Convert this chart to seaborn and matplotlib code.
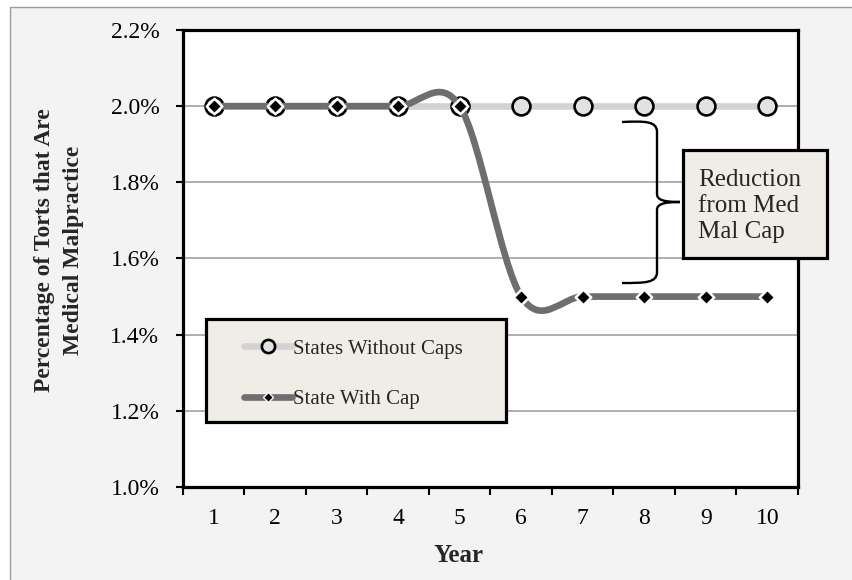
import numpy as np
import pandas as pd
import matplotlib
matplotlib.use("Agg")
import matplotlib.pyplot as plt
import seaborn as sns
from matplotlib.path import Path
from matplotlib.patches import PathPatch, Rectangle
from matplotlib.lines import Line2D
from matplotlib.transforms import Affine2D

# ---------------- data ----------------
years = [1, 2, 3, 4, 5, 6, 7, 8, 9, 10]
without_caps = [2.0, 2.0, 2.0, 2.0, 2.0, 2.0, 2.0, 2.0, 2.0, 2.0]
with_cap = [2.0, 2.0, 2.0, 2.0, 2.0, 1.5, 1.5, 1.5, 1.5, 1.5]
y_ticks = [1.0, 1.2, 1.4, 1.6, 1.8, 2.0, 2.2]
y_tick_labels = ["1.0%", "1.2%", "1.4%", "1.6%", "1.8%", "2.0%", "2.2%"]
series_names = ["States Without Caps", "State With Cap"]
x_label = "Year"
y_label = "Percentage of Torts that Are\nMedical Malpractice"
annotation_text = "Reduction\nfrom Med\nMal Cap"

# ---------------- style ----------------
sns.set_style("white")
plt.rcParams["font.family"] = ["Liberation Serif", "DejaVu Serif"]

LIGHT = "#d3d3d3"
DARK = "#6e6e6e"
BEIGE = "#efede6"

W, H = 853, 580
fig = plt.figure(figsize=(W / 100, H / 100), dpi=100)
fig.patch.set_facecolor("white")
px = Affine2D().scale(1 / W, -1 / H).translate(0, 1) + fig.transFigure

# chart area background
fig.add_artist(Rectangle((10, 7), 900, 650, transform=px, facecolor="#f3f3f3",
                         edgecolor="#9c9c9c", lw=1.0, zorder=-10))

ax = fig.add_axes([183 / W, 1 - 487 / H, 615 / W, 457 / H])
ax.set_facecolor("white")

df1 = pd.DataFrame({"Year": years, "Pct": without_caps})
df2 = pd.DataFrame({"Year": years, "Pct": with_cap})

# States without caps: straight line + open circles
sns.lineplot(data=df1, x="Year", y="Pct", color=LIGHT, lw=4.8, ax=ax,
             zorder=3, legend=False)
sns.scatterplot(data=df1, x="Year", y="Pct", marker="o", s=165, color="#e2e2e2",
                edgecolor="black", linewidth=1.9, ax=ax, zorder=4, legend=False)

# State with cap: smoothed line (Bezier through data points)
P = df2[["Year", "Pct"]].to_numpy(dtype=float)
n = len(P)
verts = [tuple(P[0])]
codes = [Path.MOVETO]
for i in range(n - 1):
    p_prev = P[max(i - 1, 0)]
    p_next2 = P[min(i + 2, n - 1)]
    c1 = P[i] + (P[i + 1] - p_prev) / 6.0
    c2 = P[i + 1] - (p_next2 - P[i]) / 6.0
    verts += [tuple(c1), tuple(c2), tuple(P[i + 1])]
    codes += [Path.CURVE4] * 3
ax.add_patch(PathPatch(Path(verts, codes), fill=False, edgecolor=DARK, lw=4.8,
                       capstyle="round", joinstyle="round", zorder=5))
sns.scatterplot(data=df2, x="Year", y="Pct", marker="D", s=62, color="black",
                edgecolor="white", linewidth=1.8, ax=ax, zorder=6, legend=False)

# axes formatting
ax.set_xlim(years[0] - 0.5, years[-1] + 0.5)
ax.set_ylim(y_ticks[0], y_ticks[-1])
ax.set_yticks(y_ticks)
ax.set_yticklabels(y_tick_labels)
ax.set_xticks(years)
ax.set_xticklabels([str(y) for y in years])
ax.set_xticks([y - 0.5 for y in years] + [years[-1] + 0.5], minor=True)
ax.set_xlabel("")
ax.set_ylabel("")
ax.yaxis.grid(True, color="#a8a8a8", lw=1.3)
ax.xaxis.grid(False)
ax.set_axisbelow(True)
for s in ax.spines.values():
    s.set_visible(True)
    s.set_color("black")
    s.set_linewidth(2.3)
ax.tick_params(axis="y", left=True, direction="out", length=5, width=1.5,
               pad=12, labelsize=17, colors="black")
ax.tick_params(axis="x", which="major", bottom=True, length=0, pad=15,
               labelsize=17, colors="black")
ax.tick_params(axis="x", which="minor", bottom=True, direction="out", length=6,
               width=1.5, colors="black")

# axis titles
fig.text(459, 555, x_label, transform=px, ha="center", va="center",
         fontsize=18, fontweight="bold")
fig.text(59, 250, y_label, transform=px, ha="center", va="center", rotation=90,
         fontsize=17, fontweight="bold", multialignment="center", linespacing=1.45)

# legend
fig.add_artist(Rectangle((206, 319), 300, 103, transform=px, facecolor=BEIGE,
                         edgecolor="black", lw=2.3, zorder=2))
handles = [
    Line2D([], [], color=LIGHT, lw=4.8, marker="o", ms=9.5, mfc="#e2e2e2",
           mec="black", mew=1.9),
    Line2D([], [], color=DARK, lw=4.8, marker="D", ms=5, mfc="black",
           mec="white", mew=1.0),
]
leg = fig.legend(handles, series_names, loc="upper left",
                 bbox_to_anchor=(244, 339), bbox_transform=px, frameon=False,
                 borderpad=0, borderaxespad=0, handlelength=2.3,
                 handletextpad=0.05, labelspacing=1.5, fontsize=15,
                 numpoints=1)
leg.set_zorder(5)

# annotation box and bracket
fig.add_artist(Rectangle((683, 150), 144, 108, transform=px, facecolor=BEIGE,
                         edgecolor="black", lw=2.3, zorder=3))
fig.text(698, 206, annotation_text, transform=px, ha="left", va="center",
         fontsize=18, linespacing=1.25, zorder=4)

brace_verts = [
    (622, 122), (645, 121), (657, 121), (657, 132),
    (657, 194),
    (657, 200), (664, 202), (680, 202),
    (664, 202), (657, 204), (657, 210),
    (657, 272),
    (657, 283), (645, 283), (622, 283),
]
brace_codes = [Path.MOVETO, Path.CURVE4, Path.CURVE4, Path.CURVE4,
               Path.LINETO,
               Path.CURVE4, Path.CURVE4, Path.CURVE4,
               Path.CURVE4, Path.CURVE4, Path.CURVE4,
               Path.LINETO,
               Path.CURVE4, Path.CURVE4, Path.CURVE4]
fig.add_artist(PathPatch(Path(brace_verts, brace_codes), transform=px, fill=False,
                         edgecolor="black", lw=1.7, zorder=3))

fig.savefig("out.png", dpi=100)
